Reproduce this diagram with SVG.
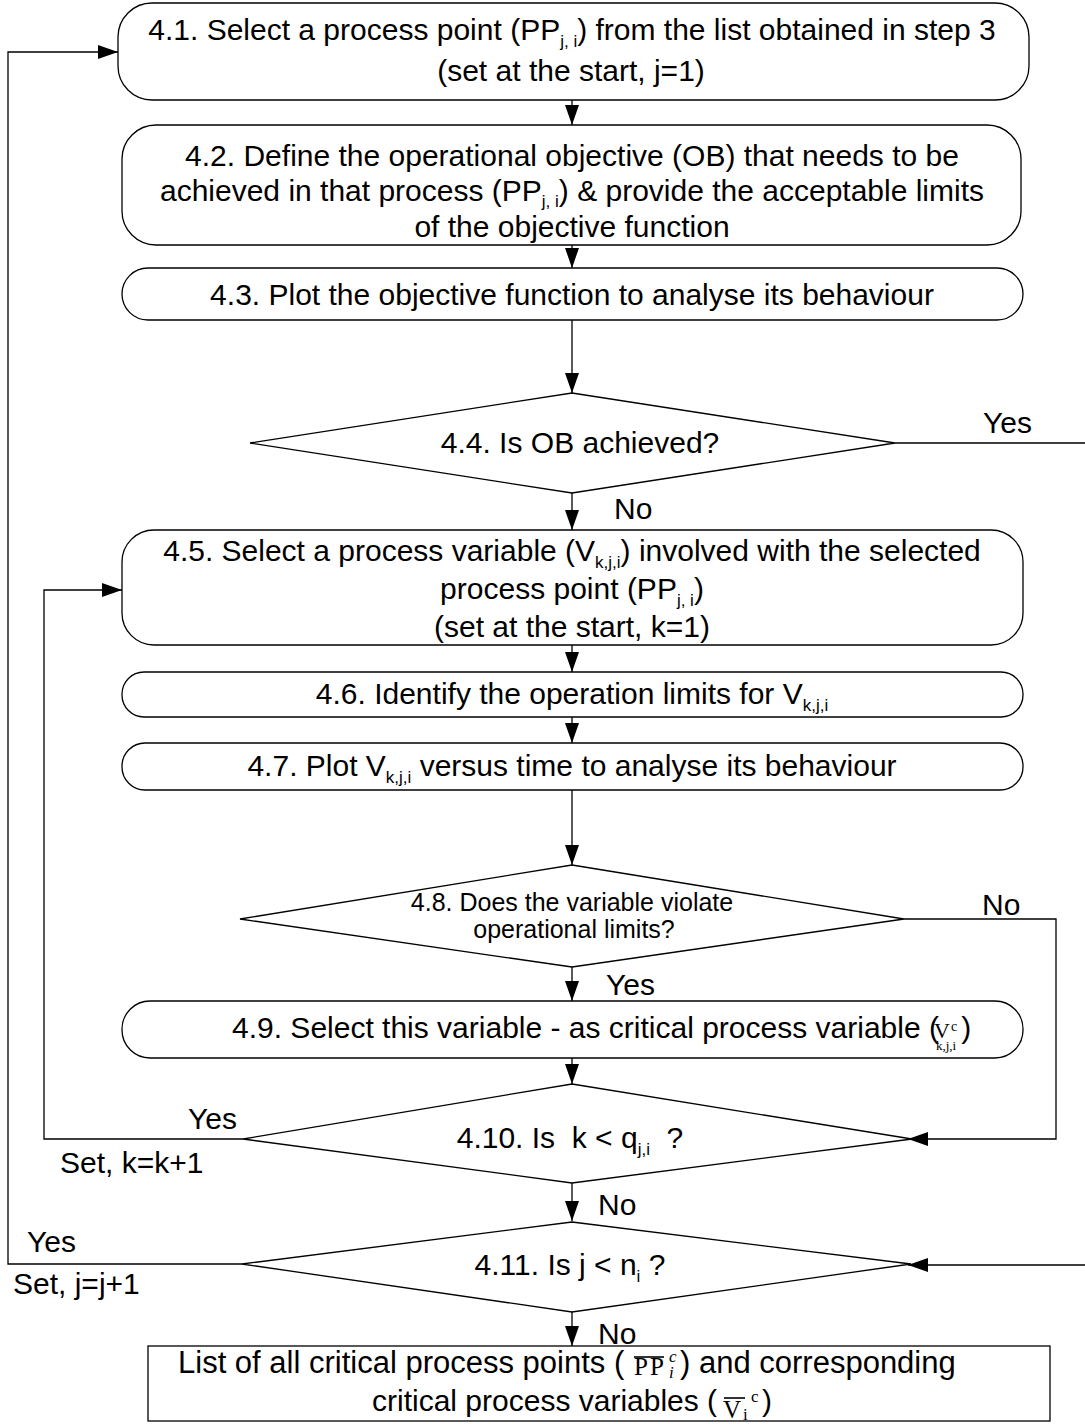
<svg xmlns="http://www.w3.org/2000/svg" width="1085" height="1424" viewBox="0 0 1085 1424">
  <style>
    .box { fill: #fff; stroke: #000; stroke-width: 1.3; }
    .t { font-family: "Liberation Sans", Arial, sans-serif; font-size: 30px; fill: #000; }
    .c { text-anchor: middle; }
    .s { font-size: 17px; }
    .m { font-family: "Liberation Serif", "Times New Roman", serif; }
    .small { font-size: 25px; }
    .pre { white-space: pre; }
    .line { fill: none; stroke: #000; stroke-width: 1.3; }
    .bar { stroke: #000; stroke-width: 1.6; }
  </style>
  <defs>
    <marker id="arr" markerUnits="userSpaceOnUse" markerWidth="22" markerHeight="14" refX="20" refY="7" orient="auto">
      <path d="M0,0 L20,7 L0,14 Z" fill="#000"/>
    </marker>
  </defs>
  <rect width="1085" height="1424" fill="#fff"/>

  <!-- connectors -->
  <g id="connectors">
    <path class="line" d="M572,100 V125" marker-end="url(#arr)"/>
    <path class="line" d="M572,245 V268" marker-end="url(#arr)"/>
    <path class="line" d="M572,320 V393" marker-end="url(#arr)"/>
    <path class="line" d="M572,493 V530" marker-end="url(#arr)"/>
    <path class="line" d="M572,645 V672" marker-end="url(#arr)"/>
    <path class="line" d="M572,717 V743" marker-end="url(#arr)"/>
    <path class="line" d="M572,790 V865" marker-end="url(#arr)"/>
    <path class="line" d="M572,967 V1001" marker-end="url(#arr)"/>
    <path class="line" d="M572,1058 V1084" marker-end="url(#arr)"/>
    <path class="line" d="M572,1183 V1221" marker-end="url(#arr)"/>
    <path class="line" d="M572,1312 V1346" marker-end="url(#arr)"/>
    <!-- 4.4 yes: on to 4.11 -->
    <path class="line" d="M895,443 H1092 V1265 H908" marker-end="url(#arr)"/>
    <!-- 4.8 no: on to 4.10 -->
    <path class="line" d="M904,919 H1056 V1139 H908" marker-end="url(#arr)"/>
    <!-- 4.10 yes: back to 4.5 -->
    <path class="line" d="M243,1139 H44 V590 H122" marker-end="url(#arr)"/>
    <!-- 4.11 yes: back to 4.1 -->
    <path class="line" d="M242,1264 H8 V52 H118" marker-end="url(#arr)"/>
  </g>

  <!-- connector labels -->
  <g id="labels" class="t">
    <text x="983" y="433">Yes</text>
    <text x="614" y="519">No</text>
    <text x="982" y="915">No</text>
    <text x="606" y="995">Yes</text>
    <text x="188" y="1129">Yes</text>
    <text x="60" y="1173">Set, k=k+1</text>
    <text x="598" y="1215">No</text>
    <text x="27" y="1252">Yes</text>
    <text x="13" y="1294">Set, j=j+1</text>
    <text x="598" y="1344">No</text>
  </g>

  <g id="n41">
    <rect class="box" x="118" y="3" width="911" height="97" rx="34" ry="34"/>
    <text class="t c" x="572" y="40">4.1. Select a process point (PP<tspan class="s" dy="7">j, i</tspan><tspan dy="-7">) from the list obtained in step 3</tspan></text>
    <text class="t c" x="571" y="81">(set at the start, j=1)</text>
  </g>

  <g id="n42">
    <rect class="box" x="122" y="125" width="899" height="120" rx="34" ry="34"/>
    <text class="t c" x="572" y="166">4.2. Define the operational objective (OB) that needs to be</text>
    <text class="t c" x="572" y="201">achieved in that process (PP<tspan class="s" dy="6">j, i</tspan><tspan dy="-6">) &amp; provide the acceptable limits</tspan></text>
    <text class="t c" x="572" y="237">of the objective function</text>
  </g>

  <g id="n43">
    <rect class="box" x="122" y="268" width="901" height="52" rx="26" ry="26"/>
    <text class="t c" x="572" y="305">4.3. Plot the objective function to analyse its behaviour</text>
  </g>

  <g id="n44">
    <polygon class="box" points="572,393 895,443 572,493 250,443"/>
    <text class="t c" x="580" y="453">4.4. Is OB achieved?</text>
  </g>

  <g id="n45">
    <rect class="box" x="122" y="530" width="901" height="115" rx="32" ry="32"/>
    <text class="t c" x="572" y="561">4.5. Select a process variable (V<tspan class="s" dy="7">k,j,i</tspan><tspan dy="-7">) involved with the selected</tspan></text>
    <text class="t c" x="572" y="599">process point (PP<tspan class="s" dy="7">j, i</tspan><tspan dy="-7">)</tspan></text>
    <text class="t c" x="572" y="637">(set at the start, k=1)</text>
  </g>

  <g id="n46">
    <rect class="box" x="122" y="672" width="901" height="45" rx="22" ry="22"/>
    <text class="t c" x="572" y="704">4.6. Identify the operation limits for V<tspan class="s" dy="7">k,j,i</tspan></text>
  </g>

  <g id="n47">
    <rect class="box" x="122" y="743" width="901" height="47" rx="23" ry="23"/>
    <text class="t c" x="572" y="776">4.7. Plot V<tspan class="s" dy="7">k,j,i</tspan><tspan dy="-7"> versus time to analyse its behaviour</tspan></text>
  </g>

  <g id="n48">
    <polygon class="box" points="572,865 904,919 572,967 240,919"/>
    <text class="t c small" x="572" y="911">4.8. Does the variable violate</text>
    <text class="t c small" x="574" y="938">operational limits?</text>
  </g>

  <g id="n49">
    <rect class="box" x="122" y="1001" width="901" height="57" rx="28" ry="28"/>
    <text class="t" x="232" y="1038">4.9. Select this variable - as critical process variable (<tspan class="m" x="934" font-size="22">V</tspan><tspan class="m" x="951" y="1031" font-size="14">c</tspan><tspan class="m" x="936" y="1050" font-size="13">k,j,i</tspan><tspan x="953" y="1038"> )</tspan></text>
  </g>

  <g id="n410">
    <polygon class="box" points="572,1084 912,1139 572,1183 243,1139"/>
    <text class="t c pre" x="570" y="1148">4.10. Is  k &lt; q<tspan class="s" dy="7">j,i</tspan><tspan dy="-7">  ?</tspan></text>
  </g>

  <g id="n411">
    <polygon class="box" points="572,1222 911,1264 572,1312 242,1264"/>
    <text class="t c" x="570" y="1275">4.11. Is j &lt; n<tspan class="s" dy="7">i</tspan><tspan dy="-7"> ?</tspan></text>
  </g>

  <g id="n_end">
    <rect class="box" x="148" y="1346" width="902" height="75"/>
    <text class="t" x="178" y="1373" style="font-size:31px">List of all critical process points (<tspan class="m" x="634" y="1375" font-size="25" letter-spacing="2">PP</tspan><tspan class="m" x="669" y="1362" font-size="17" font-style="italic">c</tspan><tspan class="m" x="669" y="1378" font-size="17" font-style="italic">i</tspan><tspan x="680" y="1373">) and corresponding</tspan></text>
    <line class="bar" x1="634" y1="1357" x2="664" y2="1357"/>
    <text class="t" x="372" y="1411">critical process variables (<tspan class="m" x="723" y="1418" font-size="25">V</tspan><tspan class="m" x="751" y="1402" font-size="17">c</tspan><tspan class="m" x="743" y="1420" font-size="17">i</tspan><tspan x="762" y="1411">)</tspan></text>
    <line class="bar" x1="724" y1="1398" x2="745" y2="1398"/>
  </g>
</svg>
